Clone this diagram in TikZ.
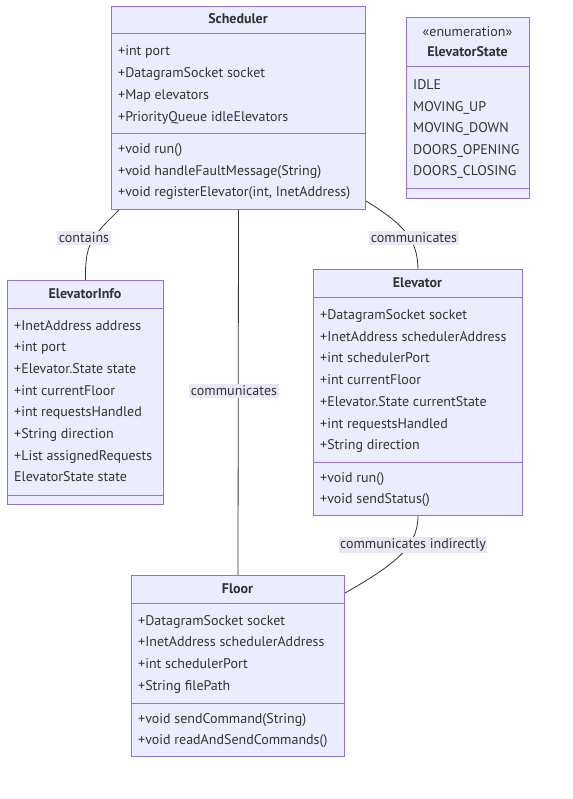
\documentclass[tikz,border=0pt]{standalone}
\usepackage{fontspec}
\setmainfont{PT Sans}
\definecolor{boxfill}{HTML}{ECECFF}
\definecolor{boxline}{HTML}{9370DB}
\definecolor{ink}{HTML}{333333}
\definecolor{labelbg}{HTML}{E8E8F8}
\newcommand\memberfont{\fontsize{14}{16}\selectfont}
\begin{document}
\begin{tikzpicture}[x=1pt,y=-1pt,
  classbox/.style={draw=boxline, fill=boxfill, line width=1pt, anchor=north west,
                   inner sep=0pt, rectangle},
  member/.style={anchor=mid west, inner sep=0pt, text=ink, font=\memberfont, yshift=-1.5pt},
  classtitle/.style={anchor=mid, inner sep=0pt, text=ink, font=\bfseries\memberfont, yshift=-1.5pt},
  divider/.style={draw=boxline, line width=1pt},
  link/.style={draw=ink, line width=0.8pt},
  linklabel/.style={fill=labelbg, text=ink, inner sep=1.5pt, font=\memberfont}
]
\useasboundingbox (0,0) rectangle (572,799);

% ---------- class boxes ----------
\node[classbox, minimum width=254pt, minimum height=203pt] (sched) at (111,6) {};
\node[classbox, minimum width=123pt, minimum height=181pt] (estate) at (406,17) {};
\node[classbox, minimum width=156pt, minimum height=224pt] (einfo) at (7,280) {};
\node[classbox, minimum width=209pt, minimum height=246pt] (elev) at (313,269) {};
\node[classbox, minimum width=213pt, minimum height=181pt] (floor) at (131,575) {};

% ---------- connectors ----------
\draw[link] ([xshift=8pt]sched.south west) .. controls (90,238) and (85,245) .. (einfo.north);
\draw[link] ([yshift=9pt]sched.south east) .. controls (405,225) and (417.5,240) .. (elev.north);
\draw[link] (sched.south) -- (floor.north);
\draw[link] (elev.south) .. controls (418,548) and (392,566) .. ([yshift=-18pt]floor.north east);

\node[linklabel] (lcontains) at (84,238) {contains};
\node[linklabel] (lcommfloor) at (234,391) {communicates};
\node[linklabel] (lcommelev) at (414,238) {communicates};
\node[linklabel] (lindirect) at (413,545) {communicates indirectly};

% ---------- Scheduler ----------
\node[classtitle] (sched-t) at (238,20) {Scheduler};
\draw[divider] (111,34) -- (365,34);
\draw[divider] (111,134) -- (365,134);
\foreach \txt [count=\i] in {+int port, +DatagramSocket socket, +Map elevators,
    +PriorityQueue idleElevators}
  \node[member] (sched-a\i) at (118, {52+21.7*(\i-1)}) {\txt};
\foreach \txt [count=\i] in {+void run(), +void handleFaultMessage(String),
    {+void registerElevator(int, InetAddress)}}
  \node[member] (sched-m\i) at (118, {150+21.5*(\i-1)}) {\txt};

% ---------- ElevatorState ----------
\node[member, anchor=mid] (estate-s) at (467.5,33) {«enumeration»};
\node[classtitle] (estate-t) at (467.5,53) {ElevatorState};
\draw[divider] (406,67) -- (529,67);
\draw[divider] (406,189) -- (529,189);
\foreach \txt [count=\i] in {IDLE, MOVING\_UP, MOVING\_DOWN, DOORS\_OPENING, DOORS\_CLOSING}
  \node[member] (estate-a\i) at (413, {85.5+21.6*(\i-1)}) {\txt};

% ---------- ElevatorInfo ----------
\node[classtitle] (einfo-t) at (85,294) {ElevatorInfo};
\draw[divider] (7,308) -- (163,308);
\draw[divider] (7,495) -- (163,495);
\foreach \txt [count=\i] in {+InetAddress address, +int port, +Elevator.State state,
    +int currentFloor, +int requestsHandled, +String direction, +List assignedRequests,
    ElevatorState state}
  \node[member] (einfo-a\i) at (14, {326+21.7*(\i-1)}) {\txt};

% ---------- Elevator ----------
\node[classtitle] (elev-t) at (417.5,283) {Elevator};
\draw[divider] (313,297) -- (522,297);
\draw[divider] (313,462) -- (522,462);
\foreach \txt [count=\i] in {+DatagramSocket socket, +InetAddress schedulerAddress,
    +int schedulerPort, +int currentFloor, +Elevator.State currentState,
    +int requestsHandled, +String direction}
  \node[member] (elev-a\i) at (320, {315.5+21.7*(\i-1)}) {\txt};
\foreach \txt [count=\i] in {+void run(), +void sendStatus()}
  \node[member] (elev-m\i) at (320, {478+21*(\i-1)}) {\txt};

% ---------- Floor ----------
\node[classtitle] (floor-t) at (237.5,589) {Floor};
\draw[divider] (131,603) -- (344,603);
\draw[divider] (131,703) -- (344,703);
\foreach \txt [count=\i] in {+DatagramSocket socket, +InetAddress schedulerAddress,
    +int schedulerPort, +String filePath}
  \node[member] (floor-a\i) at (138, {621+21.7*(\i-1)}) {\txt};
\foreach \txt [count=\i] in {+void sendCommand(String), +void readAndSendCommands()}
  \node[member] (floor-m\i) at (138, {719+21*(\i-1)}) {\txt};
\end{tikzpicture}
\end{document}
